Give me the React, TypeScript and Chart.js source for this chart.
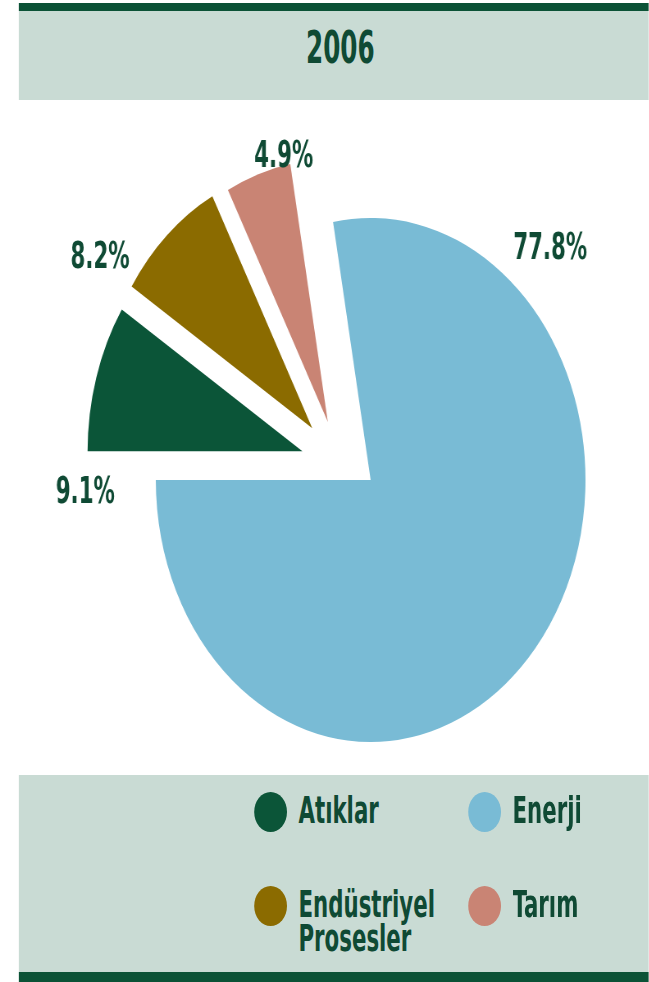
import React, { useEffect, useRef } from "react";
import { Chart, registerables } from "chart.js";

Chart.register(...registerables);

// ---- data ----
const TITLE = "2006";
const categories = ["Atıklar", "Endüstriyel Prosesler", "Tarım", "Enerji"];
const shares = [9.1, 8.2, 4.9, 77.8];
const colors = ["#0b5538", "#8b6b00", "#c98474", "#79bbd5"];
// legend shows the categories column by column in this order
const legendOrder = [0, 1, 3, 2];

// ---- styling / layout ----
const SX = 0.82; // the original artwork is horizontally condensed
const TX = 0.76; // extra condensing of the lettering
const PAGE_W = 649;
const PAGE_H = 982;
const INNER_W = PAGE_W / SX;
const BAND_L = 19 / SX;
const FONT =
  "'Liberation Sans Narrow', 'DejaVu Sans Condensed', 'Liberation Sans', sans-serif";
const TEXT = "#0f4a34";
const BAND = "#c9dbd4";
const DARK = "#0b5236";

const CANVAS_W = 768;
const CANVAS_H = 675;
const PIE_RADIUS = 262;
// explode vectors per slice [angleDeg, distancePx]
const explode: [number, number][] = [
  [199, 88],
  [216, 88],
  [228, 78],
  [0, 0],
];
// label anchor (centre x, baseline y) relative to pie centre
const labelAnchors: [number, number][] = [
  [-348, 23],
  [-330, -212],
  [-106, -313],
  [219, -221],
];

const explodePlugin = {
  id: "explodeSlices",
  afterDatasetUpdate(chart: any, args: any) {
    const meta = args.meta;
    meta.data.forEach((arc: any, i: number) => {
      const v = explode[i];
      if (!v || !v[1]) return;
      const a = (v[0] * Math.PI) / 180;
      arc.x += Math.cos(a) * v[1];
      arc.y += Math.sin(a) * v[1];
    });
  },
};

const labelPlugin = {
  id: "sliceLabels",
  afterDatasetsDraw(chart: any) {
    const { ctx, chartArea } = chart;
    const cx = (chartArea.left + chartArea.right) / 2;
    const cy = (chartArea.top + chartArea.bottom) / 2;
    const values = chart.data.datasets[0].data as number[];
    values.forEach((v, i) => {
      const [dx, dy] = labelAnchors[i];
      ctx.save();
      ctx.translate(cx + dx, cy + dy);
      ctx.scale(TX, 1);
      ctx.font = `bold 38px ${FONT}`;
      ctx.fillStyle = TEXT;
      ctx.textAlign = "center";
      ctx.textBaseline = "alphabetic";
      ctx.fillText(`${v.toFixed(1)}%`, 0, 0);
      ctx.restore();
    });
  },
};

const colX = [271 / SX, 485 / SX];
const rowY = [812, 906];

export default function App() {
  const ref = useRef<HTMLCanvasElement | null>(null);

  useEffect(() => {
    if (!ref.current) return;
    const chart = new Chart(ref.current, {
      type: "pie",
      data: {
        labels: categories,
        datasets: [
          {
            data: shares,
            backgroundColor: colors,
            borderWidth: 0,
            radius: PIE_RADIUS,
          } as any,
        ],
      },
      options: {
        responsive: false,
        animation: false,
        events: [],
        rotation: 270,
        layout: { padding: { left: 90, top: 85, right: 0, bottom: 0 } },
        plugins: {
          legend: { display: false },
          tooltip: { enabled: false },
          title: { display: false },
        },
      } as any,
      plugins: [explodePlugin, labelPlugin],
    });
    return () => chart.destroy();
  }, []);

  return (
    <div
      style={{
        position: "absolute",
        left: 0,
        top: 0,
        width: PAGE_W,
        height: PAGE_H,
        overflow: "hidden",
        background: "#ffffff",
      }}
    >
      <div
        style={{
          position: "absolute",
          left: 0,
          top: 0,
          width: INNER_W,
          height: PAGE_H,
          transform: `scaleX(${SX})`,
          transformOrigin: "0 0",
          fontFamily: FONT,
          fontWeight: "bold",
          color: TEXT,
        }}
      >
        {/* header */}
        <div style={{ position: "absolute", left: BAND_L, top: 3, width: INNER_W - BAND_L, height: 8, background: DARK }} />
        <div style={{ position: "absolute", left: BAND_L, top: 11, width: INNER_W - BAND_L, height: 89, background: BAND }} />
        <div
          style={{
            position: "absolute",
            left: 340 / SX - 150,
            top: 26,
            width: 300,
            textAlign: "center",
            fontSize: 44,
            lineHeight: "44px",
            whiteSpace: "nowrap",
            transform: `scaleX(${TX})`,
            transformOrigin: "50% 0",
          }}
        >
          {TITLE}
        </div>

        {/* pie */}
        <canvas
          ref={ref}
          width={CANVAS_W}
          height={CANVAS_H}
          style={{ position: "absolute", left: BAND_L, top: 100, display: "block" }}
        />

        {/* legend */}
        <div style={{ position: "absolute", left: BAND_L, top: 775, width: INNER_W - BAND_L, height: 197, background: BAND }} />
        <div style={{ position: "absolute", left: BAND_L, top: 972, width: INNER_W - BAND_L, height: 10, background: DARK }} />
        {legendOrder.map((idx, k) => {
          const col = Math.floor(k / 2);
          const row = k % 2;
          const x = colX[col];
          const y = rowY[row];
          return (
            <React.Fragment key={categories[idx]}>
              <div
                style={{
                  position: "absolute",
                  left: x - 20,
                  top: y - 20,
                  width: 40,
                  height: 40,
                  borderRadius: "50%",
                  background: colors[idx],
                }}
              />
              <div
                style={{
                  position: "absolute",
                  left: x + 34,
                  top: y - 19,
                  width: 250,
                  fontSize: 38,
                  lineHeight: "34px",
                  transform: `scaleX(${TX})`,
                  transformOrigin: "0 0",
                }}
              >
                {categories[idx]}
              </div>
            </React.Fragment>
          );
        })}
      </div>
    </div>
  );
}
